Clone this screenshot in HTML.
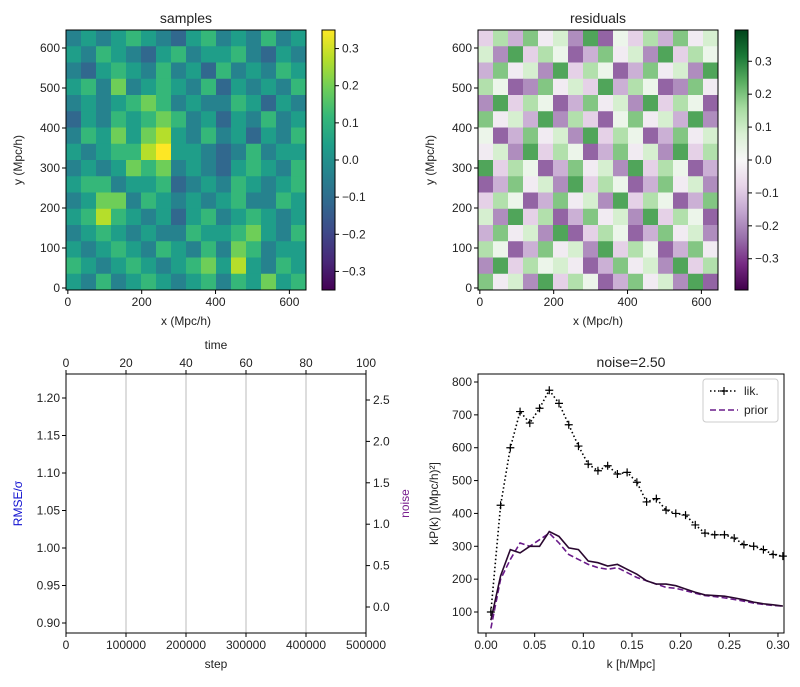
<!DOCTYPE html>
<html><head><meta charset="utf-8"><style>
html,body{margin:0;padding:0;background:#fff}
svg{display:block;font-family:"Liberation Sans","DejaVu Sans",sans-serif;font-size:12px}
</style></head><body>
<svg id="s" width="800" height="687" viewBox="0 0 800 687"></svg>
<script>
// ---------- data ----------
const samplesGrid = [
"4545654356454645","5465435645564354","4356546453645465","5647456546354546",
"4545676454465354","3546567645354645","4657578546453546","5456689554346455",
"4545767454356546","5664556345465456","4577465454564465","5686545356456545",
"4565454465567546","5456546546476455","6545654567585465","5464565456465756"];
const residualsGrid = [
"3728461905372846","6193750284619375","2846193750284619","7501846392750184",
"1937502846193750","8462917305846291","5028461937502846","4619375028461937",
"9375028461937502","0284619375028461","3750284619375028","6193702846193750",
"2846190375028461","7502846193750284","1937564028461937","8461937502846190"];
const kVals = [0.005,0.015,0.025,0.035,0.045,0.055,0.065,0.075,0.085,0.095,0.105,0.115,0.125,0.135,0.145,0.155,0.165,0.175,0.185,0.195,0.205,0.215,0.225,0.235,0.245,0.255,0.265,0.275,0.285,0.295,0.305];
const likVals = [100,425,600,710,675,720,775,735,670,605,550,530,545,520,525,495,435,445,410,400,395,365,340,335,335,325,305,300,290,275,270];
const sampleVals = [75,210,290,280,300,300,345,330,295,290,255,250,240,245,230,215,195,185,185,180,170,160,152,150,148,143,137,130,125,122,118];
const priorVals = [50,200,260,310,300,320,340,310,275,260,245,235,230,235,220,205,195,185,175,172,165,157,150,147,143,138,133,127,123,120,118];
const mapTicks = [0,200,400,600];
const mapYTicks = [0,100,200,300,400,500,600];
const cbTicks = [-0.3,-0.2,-0.1,0,0.1,0.2,0.3];
const stepTicks = [0,100000,200000,300000,400000,500000];
const timeTicks = [0,20,40,60,80,100];
const rmseTicks = [0.90,0.95,1.00,1.05,1.10,1.15,1.20];
const noiseTicks = [0,0.5,1.0,1.5,2.0,2.5];
const pkXTicks = [0,0.05,0.10,0.15,0.20,0.25,0.30];
const pkYTicks = [100,200,300,400,500,600,700,800];

// ---------- helpers ----------
const S = document.getElementById('s');
const NS = 'http://www.w3.org/2000/svg';
function el(tag, at, parent){const e=document.createElementNS(NS,tag);for(const k in at)e.setAttribute(k,at[k]);(parent||S).appendChild(e);return e;}
function txt(x,y,s,anchor,extra){const t=el('text',Object.assign({x:x,y:y,'text-anchor':anchor||'middle',fill:'#222'},extra||{}));t.textContent=s;return t;}
function lin(d0,d1,r0,r1){return v=>r0+(v-d0)/(d1-d0)*(r1-r0);}
function fmt(v){return (v<0?'\u2212':'')+Math.abs(v).toFixed(1);}
const viridis=['#440154','#482878','#3e4989','#31688e','#26828e','#1f9e89','#35b779','#6ece58','#b5de2b','#fde725'];
const prgn=['#40004b','#762a83','#9970ab','#c2a5cf','#e7d4e8','#f7f7f7','#d9f0d3','#a6dba0','#5aae61','#1b7837','#00441b'];
function cmap(stops,t){t=Math.max(0,Math.min(1,t));const f=t*(stops.length-1);const i=Math.min(stops.length-2,Math.floor(f));const u=f-i;
 const a=stops[i],b=stops[i+1];const c=j=>Math.round(parseInt(a.substr(j,2),16)*(1-u)+parseInt(b.substr(j,2),16)*u);
 return 'rgb('+c(1)+','+c(3)+','+c(5)+')';}

function heatPanel(name,grid,stops,x0,x1,y0,y1,cbx,vmax,title,amp){
 const g=el('g',{});
 
 
 const X=lin(-5,645,x0,x1), Y=lin(-5,645,y1,y0);
 const n=grid.length, cs=650/n;
 for(let r=0;r<n;r++)for(let c=0;c<n;c++){
  const v=((parseInt(grid[r][c])-4.5)/4.5)*amp;
  const rc=el('rect',{x:X(-5+c*cs),y:Y(645-r*cs),width:(x1-x0)/n+0.5,height:(y1-y0)/n+0.5,fill:cmap(stops,(v+vmax)/(2*vmax))},g);
  
  
 }
 el('rect',{x:x0,y:y0,width:x1-x0,height:y1-y0,fill:'none',stroke:'#000','stroke-width':1},g);
 mapTicks.forEach(v=>{el('line',{x1:X(v),x2:X(v),y1:y1,y2:y1+4,stroke:'#000'},g);txt(X(v),y1+16,String(v));});
 mapYTicks.forEach(v=>{el('line',{x1:x0-4,x2:x0,y1:Y(v),y2:Y(v),stroke:'#000'},g);txt(x0-6,Y(v)+4,String(v),'end');});
 txt((x0+x1)/2,y1+35,'x (Mpc/h)');
 txt(0,0,'y (Mpc/h)','middle',{transform:'translate('+(x0-44)+','+((y0+y1)/2)+') rotate(-90)'});
 const tt=txt((x0+x1)/2,y0-7,title,'middle',{'font-size':'14'});
 
 
 const cb=el('g',{});
 
 
 const defs=el('defs',{},cb);const gr=el('linearGradient',{id:name+'g',x1:0,y1:1,x2:0,y2:0},defs);
 stops.forEach((s,i)=>el('stop',{offset:i/(stops.length-1),'stop-color':s},gr));
 el('rect',{x:cbx,y:y0,width:13,height:y1-y0,fill:'url(#'+name+'g)',stroke:'#000'},cb);
 const CY=lin(-vmax,vmax,y1,y0);
 cbTicks.forEach(v=>{el('line',{x1:cbx+13,x2:cbx+17,y1:CY(v),y2:CY(v),stroke:'#000'},cb);txt(cbx+20,CY(v)+4,fmt(v),'start');});
}
heatPanel('samples',samplesGrid,viridis,66,306,30,290,322,0.35,'samples',0.35);
heatPanel('residuals',residualsGrid,prgn,478,718,30,290,735,0.395,'residuals',0.25);

// ---------- bottom-left ----------
(function(){
 const x0=66,x1=366,y0=374,y1=633;
 const g=el('g',{});
 
 
 const X=lin(0,500000,x0,x1), T=lin(0,100,x0,x1), R=lin(0.9,1.2,623,398), N=lin(0,2.5,607,400);
 timeTicks.slice(1,5).forEach(v=>el('line',{x1:T(v),x2:T(v),y1:y0,y2:y1,stroke:'#bbb'},g));
 el('rect',{x:x0,y:y0,width:x1-x0,height:y1-y0,fill:'none',stroke:'#000'},g);
 stepTicks.forEach(v=>{el('line',{x1:X(v),x2:X(v),y1:y1,y2:y1+4,stroke:'#000'},g);txt(X(v),y1+16,String(v));});
 timeTicks.forEach(v=>{el('line',{x1:T(v),x2:T(v),y1:y0-4,y2:y0,stroke:'#000'},g);txt(T(v),y0-7,String(v));});
 rmseTicks.forEach(v=>{el('line',{x1:x0-4,x2:x0,y1:R(v),y2:R(v),stroke:'#000'},g);txt(x0-6,R(v)+4,v.toFixed(2),'end');});
 noiseTicks.forEach(v=>{el('line',{x1:x1,x2:x1+4,y1:N(v),y2:N(v),stroke:'#000'},g);txt(x1+7,N(v)+4,v.toFixed(1),'start');});
 txt((x0+x1)/2,y1+35,'step');
 txt((x0+x1)/2,y0-25,'time');
 txt(0,0,'RMSE/\u03c3','middle',{fill:'#1010d0',transform:'translate(22,'+((y0+y1)/2)+') rotate(-90)'});
 txt(0,0,'noise','middle',{fill:'#7a1f8f',transform:'translate(409,'+((y0+y1)/2)+') rotate(-90)'});
})();

// ---------- bottom-right ----------
(function(){
 const x0=478,x1=784,y0=374,y1=633;
 const g=el('g',{});
 
 
 const X=lin(0,0.3,486,778), Y=lin(100,800,612,382);
 const pts=a=>a.map((v,i)=>X(kVals[i])+','+Y(v)).join(' ');
 const pl=el('polyline',{points:pts(priorVals),fill:'none',stroke:'#6a1b8a','stroke-width':1.6,'stroke-dasharray':'6,3'},g);
 
 
 const sl=el('polyline',{points:pts(sampleVals),fill:'none',stroke:'#2a0830','stroke-width':1.6},g);
 
 
 const ll=el('polyline',{points:pts(likVals),fill:'none',stroke:'#000','stroke-width':1.6,'stroke-dasharray':'1.5,2.5'},g);
 
 
 likVals.forEach((v,i)=>{const cx=X(kVals[i]),cy=Y(v);
  const m=el('path',{d:'M'+(cx-4)+','+cy+'h8M'+cx+','+(cy-4)+'v8',stroke:'#000','stroke-width':1.2},g);
  
  });
 el('rect',{x:x0,y:y0,width:x1-x0,height:y1-y0,fill:'none',stroke:'#000'},g);
 pkXTicks.forEach(v=>{el('line',{x1:X(v),x2:X(v),y1:y1,y2:y1+4,stroke:'#000'},g);txt(X(v),y1+16,v.toFixed(2));});
 pkYTicks.forEach(v=>{el('line',{x1:x0-4,x2:x0,y1:Y(v),y2:Y(v),stroke:'#000'},g);txt(x0-6,Y(v)+4,String(v),'end');});
 txt((x0+x1)/2,y1+35,'k [h/Mpc]','middle');
 txt(0,0,'kP(k) [(Mpc/h)\u00b2]','middle',{transform:'translate(438,'+((y0+y1)/2)+') rotate(-90)'});
 txt((x0+x1)/2,y0-7,'noise=2.50','middle',{'font-size':'14'});
 const lg=el('g',{},g);
 
 
 el('rect',{x:703,y:379,width:75,height:43,rx:3,fill:'#fff',stroke:'#ccc'},lg);
 el('line',{x1:710,x2:738,y1:391,y2:391,stroke:'#000','stroke-width':1.6,'stroke-dasharray':'1.5,2.5'},lg);
 el('path',{d:'M720,391h8M724,387v8',stroke:'#000','stroke-width':1.2},lg);
 txt(744,395,'lik.','start');
 el('line',{x1:710,x2:738,y1:410,y2:410,stroke:'#6a1b8a','stroke-width':1.6,'stroke-dasharray':'6,3'},lg);
 txt(744,414,'prior','start');
})();
</script>
</body></html>
